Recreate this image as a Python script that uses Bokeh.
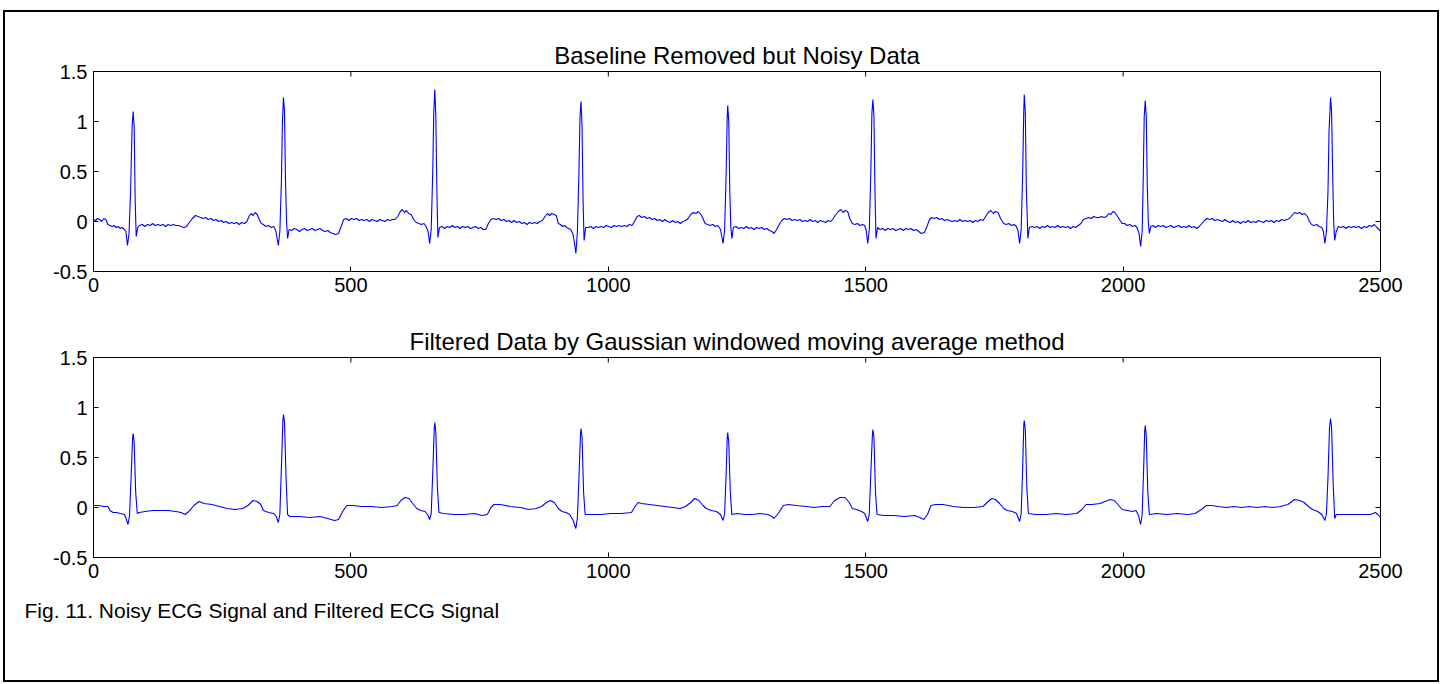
from bokeh.plotting import figure
from bokeh.layouts import column
from bokeh.models import Range1d, FixedTicker, Title
from bokeh.embed import file_html
from bokeh.resources import INLINE

# ---------------- data ----------------
title_top = "Baseline Removed but Noisy Data"
title_bottom = "Filtered Data by Gaussian windowed moving average method"
caption = "Fig. 11. Noisy ECG Signal and Filtered ECG Signal"

x_tick_values = [0, 500, 1000, 1500, 2000, 2500]
x_tick_labels = ["0", "500", "1000", "1500", "2000", "2500"]
y_tick_values = [-0.5, 0, 0.5, 1, 1.5]
y_tick_labels = ["-0.5", "0", "0.5", "1", "1.5"]

# noisy (baseline removed) ECG: (sample, amplitude)
noisy_points = [
    (0, 0.02), (4, 0.01), (8, 0.03), (12, 0.02), (16, 0.00), (20, 0.03), (24, 0.02), (28, -0.03),
    (32, -0.04), (36, -0.05), (40, -0.04), (44, -0.06), (48, -0.05), (52, -0.07), (56, -0.06),
    (60, -0.08), (63, -0.10), (66, -0.24), (69, -0.12), (72, 0.30), (75, 0.95), (77, 1.10),
    (79, 0.95), (81, 0.20), (83, -0.15), (86, -0.06), (89, -0.04),
    (95, -0.03), (100, -0.05), (105, -0.03), (110, -0.04), (115, -0.02), (120, -0.04), (125, -0.03),
    (130, -0.04), (135, -0.03), (140, -0.05), (145, -0.03), (150, -0.04), (155, -0.03), (160, -0.04),
    (165, -0.04), (170, -0.05), (176, -0.06), (181, -0.05), (186, -0.01), (192, 0.03), (198, 0.06),
    (203, 0.05), (208, 0.04), (213, 0.03), (218, 0.04), (223, 0.02), (228, 0.03), (233, 0.01),
    (238, 0.02), (243, 0.00), (248, 0.01), (253, -0.01), (258, 0.00), (263, -0.02), (268, -0.01),
    (273, -0.02), (278, -0.01), (283, -0.03), (288, -0.01), (293, -0.02), (298, 0.00), (302, 0.05),
    (306, 0.08), (310, 0.06), (314, 0.09), (318, 0.07), (322, 0.02), (326, -0.02), (330, -0.03),
    (335, -0.05), (340, -0.04), (345, -0.06), (350, -0.05), (354, -0.09), (359, -0.24), (362, -0.10),
    (365, 0.40), (367, 1.00), (369, 1.24), (371, 1.10), (373, 0.40), (375, 0.00), (377, -0.17),
    (380, -0.08),
    (385, -0.09), (390, -0.07), (395, -0.08), (400, -0.10), (405, -0.08), (410, -0.07), (415, -0.09),
    (420, -0.08), (425, -0.07), (430, -0.09), (435, -0.08), (440, -0.07), (445, -0.09), (450, -0.10),
    (455, -0.09), (460, -0.11), (465, -0.12), (470, -0.13), (476, -0.12), (481, -0.05), (486, 0.02),
    (491, 0.03), (496, 0.01), (501, 0.03), (506, 0.02), (511, 0.03), (516, 0.01), (521, 0.02),
    (526, 0.01), (531, 0.02), (536, 0.00), (541, 0.02), (546, 0.01), (551, 0.00), (556, 0.02),
    (561, 0.01), (566, 0.00), (571, 0.02), (576, 0.01), (581, 0.02), (586, 0.02), (591, 0.05),
    (596, 0.10), (600, 0.12), (604, 0.09), (608, 0.11), (612, 0.08), (617, 0.07), (622, 0.02),
    (627, -0.01), (632, -0.02), (637, -0.03), (642, -0.02), (646, -0.05), (650, -0.10), (653, -0.22),
    (656, -0.08), (659, 0.50), (661, 1.10), (663, 1.32), (665, 1.05), (667, 0.30), (669, -0.16),
    (672, -0.06),
    (677, -0.05), (682, -0.07), (687, -0.05), (692, -0.06), (697, -0.04), (702, -0.06), (707, -0.05),
    (712, -0.07), (717, -0.05), (722, -0.06), (727, -0.05), (732, -0.07), (737, -0.06), (742, -0.05),
    (747, -0.07), (752, -0.06), (757, -0.08), (762, -0.08), (767, -0.02), (772, 0.02), (777, 0.03),
    (782, 0.02), (787, 0.03), (792, 0.01), (797, 0.02), (802, 0.00), (807, 0.01), (812, -0.01),
    (817, 0.01), (822, -0.01), (827, 0.00), (832, -0.02), (837, -0.01), (842, -0.03), (847, -0.01),
    (852, -0.02), (857, -0.01), (862, -0.02), (867, 0.00), (872, 0.01), (877, 0.05), (882, 0.08),
    (886, 0.06), (890, 0.08), (895, 0.07), (899, 0.06), (903, -0.02), (907, -0.03), (911, -0.05),
    (915, -0.04), (919, -0.06), (923, -0.07), (927, -0.08), (931, -0.12), (934, -0.20), (937, -0.32),
    (940, -0.10), (943, 0.50), (945, 1.05), (947, 1.20), (949, 0.95), (951, 0.20), (953, -0.19),
    (956, -0.06),
    (961, -0.06), (966, -0.05), (971, -0.07), (976, -0.05), (981, -0.06), (986, -0.05), (991, -0.06),
    (996, -0.04), (1001, -0.05), (1006, -0.06), (1011, -0.04), (1016, -0.05), (1021, -0.04),
    (1026, -0.05), (1031, -0.04), (1036, -0.05), (1041, -0.03), (1046, -0.04), (1051, 0.00),
    (1056, 0.05), (1060, 0.06), (1065, 0.04), (1070, 0.05), (1075, 0.03), (1080, 0.04), (1085, 0.02),
    (1090, 0.03), (1095, 0.01), (1100, 0.02), (1105, 0.00), (1110, 0.02), (1115, 0.00), (1120, -0.01),
    (1125, 0.01), (1130, -0.01), (1135, 0.00), (1140, -0.02), (1145, 0.00), (1150, 0.01), (1155, 0.03),
    (1160, 0.07), (1165, 0.09), (1170, 0.08), (1175, 0.10), (1180, 0.07), (1184, 0.03), (1188, -0.02),
    (1193, -0.03), (1198, -0.04), (1203, -0.03), (1208, -0.05), (1213, -0.04), (1218, -0.08),
    (1223, -0.22), (1226, -0.08), (1229, 0.50), (1231, 1.05), (1232, 1.16), (1234, 1.00), (1236, 0.30),
    (1238, -0.05), (1240, -0.17), (1243, -0.06),
    (1248, -0.05), (1253, -0.07), (1258, -0.06), (1263, -0.07), (1268, -0.05), (1273, -0.07),
    (1278, -0.06), (1283, -0.08), (1288, -0.06), (1293, -0.07), (1298, -0.06), (1303, -0.08),
    (1308, -0.07), (1313, -0.09), (1318, -0.10), (1322, -0.12), (1327, -0.08), (1332, -0.03),
    (1337, 0.01), (1342, 0.03), (1347, 0.02), (1352, 0.03), (1357, 0.01), (1362, 0.02), (1367, 0.01),
    (1372, 0.02), (1377, 0.00), (1382, 0.01), (1387, 0.00), (1392, 0.02), (1397, 0.00), (1402, 0.01),
    (1407, -0.01), (1412, 0.01), (1417, 0.00), (1422, -0.01), (1427, 0.01), (1432, 0.00), (1437, 0.03),
    (1442, 0.07), (1447, 0.10), (1452, 0.12), (1456, 0.09), (1460, 0.11), (1465, 0.10), (1469, 0.03),
    (1474, -0.02), (1479, -0.03), (1484, -0.02), (1489, -0.04), (1494, -0.03), (1498, -0.04),
    (1501, -0.09), (1504, -0.22), (1507, -0.08), (1510, 0.50), (1512, 1.08), (1514, 1.22), (1516, 1.05),
    (1518, 0.30), (1520, -0.17), (1523, -0.06),
    (1528, -0.08), (1533, -0.07), (1538, -0.09), (1543, -0.07), (1548, -0.08), (1553, -0.07),
    (1558, -0.09), (1563, -0.08), (1568, -0.07), (1573, -0.09), (1578, -0.07), (1583, -0.08),
    (1588, -0.07), (1593, -0.09), (1598, -0.08), (1603, -0.10), (1608, -0.12), (1614, -0.11),
    (1619, -0.05), (1624, 0.02), (1628, 0.04), (1633, 0.03), (1638, 0.04), (1643, 0.02), (1648, 0.03),
    (1653, 0.01), (1658, 0.02), (1663, 0.01), (1668, 0.00), (1673, 0.01), (1678, 0.00), (1683, 0.02),
    (1688, 0.00), (1693, 0.01), (1698, 0.00), (1703, 0.01), (1708, -0.01), (1713, 0.01), (1718, 0.00),
    (1723, 0.02), (1728, 0.01), (1733, 0.05), (1738, 0.09), (1743, 0.11), (1748, 0.08), (1752, 0.10),
    (1757, 0.09), (1762, 0.03), (1768, -0.02), (1773, -0.03), (1778, -0.02), (1783, -0.04),
    (1788, -0.03), (1793, -0.05), (1796, -0.10), (1799, -0.22), (1802, -0.08), (1805, 0.50),
    (1807, 1.10), (1808, 1.27), (1810, 1.10), (1812, 0.35), (1815, -0.17), (1818, -0.06),
    (1823, -0.05), (1828, -0.06), (1833, -0.05), (1838, -0.07), (1843, -0.05), (1848, -0.06),
    (1853, -0.04), (1858, -0.06), (1863, -0.05), (1868, -0.06), (1873, -0.04), (1878, -0.06),
    (1883, -0.05), (1888, -0.06), (1893, -0.05), (1898, -0.07), (1903, -0.05), (1908, -0.06),
    (1913, -0.04), (1918, -0.02), (1923, 0.02), (1928, 0.03), (1933, 0.04), (1938, 0.03), (1943, 0.05),
    (1948, 0.04), (1953, 0.04), (1958, 0.05), (1963, 0.04), (1968, 0.05), (1972, 0.08), (1976, 0.07),
    (1980, 0.10), (1984, 0.09), (1988, 0.06), (1993, 0.02), (1998, -0.02), (2003, -0.02), (2008, -0.04),
    (2013, -0.03), (2018, -0.05), (2023, -0.04), (2027, -0.06), (2031, -0.12), (2034, -0.25),
    (2037, -0.10), (2039, 0.40), (2041, 1.05), (2043, 1.21), (2045, 1.05), (2047, 0.35), (2049, 0.00),
    (2051, -0.12), (2054, -0.05),
    (2058, -0.04), (2063, -0.06), (2068, -0.04), (2073, -0.05), (2078, -0.04), (2083, -0.06),
    (2088, -0.05), (2093, -0.04), (2098, -0.06), (2103, -0.05), (2108, -0.04), (2113, -0.06),
    (2118, -0.05), (2123, -0.06), (2128, -0.04), (2133, -0.06), (2138, -0.05), (2143, -0.07),
    (2148, -0.05), (2153, -0.02), (2158, 0.01), (2163, 0.03), (2168, 0.02), (2173, 0.03), (2178, 0.01),
    (2183, 0.02), (2188, 0.01), (2193, 0.00), (2198, 0.02), (2203, 0.00), (2208, -0.01), (2213, 0.01),
    (2218, -0.01), (2223, 0.00), (2228, -0.02), (2233, 0.00), (2238, -0.01), (2243, 0.01),
    (2248, -0.01), (2253, 0.00), (2258, -0.01), (2263, 0.01), (2268, 0.00), (2273, -0.01), (2278, 0.01),
    (2283, 0.00), (2288, 0.01), (2293, -0.01), (2298, 0.01), (2303, 0.00), (2308, 0.02), (2313, 0.01),
    (2318, 0.02), (2323, 0.03), (2328, 0.06), (2333, 0.09), (2338, 0.08), (2343, 0.09), (2348, 0.07),
    (2353, 0.08), (2358, 0.05), (2362, 0.00), (2366, -0.03), (2371, -0.04), (2376, -0.03),
    (2381, -0.05), (2386, -0.06), (2389, -0.10), (2392, -0.22), (2395, -0.10), (2398, 0.30),
    (2400, 0.90), (2403, 1.24), (2405, 1.10), (2407, 0.50), (2409, 0.00), (2411, -0.19), (2414, -0.10),
    (2418, -0.05), (2423, -0.06), (2428, -0.05), (2433, -0.07), (2438, -0.05), (2443, -0.06),
    (2448, -0.05), (2453, -0.06), (2458, -0.05), (2463, -0.07), (2468, -0.05), (2473, -0.06),
    (2478, -0.04), (2483, -0.05), (2488, -0.03), (2493, -0.06), (2497, -0.08), (2500, -0.10),
]

# filtered ECG (Gaussian windowed moving average): (sample, amplitude)
filtered_points = [
    (0, 0.02), (10, 0.02), (20, 0.01), (28, 0.01), (32, -0.03), (38, -0.05), (45, -0.05), (52, -0.06),
    (60, -0.07), (64, -0.12), (67, -0.17), (70, -0.08), (73, 0.30), (76, 0.70), (77, 0.74), (79, 0.65),
    (82, 0.15), (85, -0.06), (89, -0.05), (100, -0.04), (115, -0.03), (130, -0.03), (145, -0.03),
    (160, -0.04), (170, -0.05), (178, -0.07), (185, -0.04), (195, 0.02), (205, 0.06), (215, 0.04),
    (230, 0.03), (245, 0.01), (260, -0.01), (275, -0.02), (290, -0.01), (300, 0.02), (310, 0.07),
    (318, 0.06), (325, 0.03), (330, -0.03), (340, -0.05), (350, -0.06), (355, -0.09), (359, -0.15),
    (362, -0.07), (365, 0.40), (368, 0.88), (369, 0.93), (371, 0.85), (374, 0.30), (377, -0.07),
    (382, -0.09), (400, -0.09), (420, -0.10), (440, -0.09), (455, -0.11), (468, -0.13), (476, -0.12),
    (484, -0.04), (492, 0.02), (505, 0.02), (520, 0.01), (540, 0.01), (560, 0.00), (580, 0.01),
    (590, 0.02), (597, 0.07), (605, 0.10), (613, 0.09), (620, 0.04), (628, -0.01), (636, -0.03),
    (644, -0.04), (650, -0.08), (653, -0.12), (656, -0.06), (659, 0.35), (662, 0.80), (663, 0.85),
    (665, 0.75), (668, 0.20), (671, -0.05), (680, -0.06), (700, -0.07), (720, -0.07), (740, -0.06),
    (755, -0.08), (765, -0.07), (772, 0.00), (778, 0.03), (790, 0.03), (810, 0.01), (830, 0.00),
    (845, -0.02), (860, -0.01), (870, 0.01), (880, 0.05), (888, 0.07), (895, 0.05), (903, -0.01),
    (910, -0.04), (918, -0.05), (925, -0.07), (931, -0.12), (937, -0.21), (940, -0.10), (943, 0.30),
    (946, 0.74), (947, 0.79), (949, 0.70), (952, 0.15), (955, -0.07), (965, -0.07), (985, -0.07),
    (1005, -0.06), (1025, -0.06), (1045, -0.05), (1052, 0.01), (1058, 0.05), (1065, 0.04),
    (1080, 0.03), (1095, 0.02), (1110, 0.01), (1125, 0.00), (1140, -0.01), (1150, 0.01), (1160, 0.05),
    (1168, 0.09), (1176, 0.07), (1184, 0.02), (1190, -0.01), (1200, -0.03), (1210, -0.04),
    (1218, -0.07), (1223, -0.13), (1226, -0.06), (1229, 0.35), (1231, 0.70), (1232, 0.75), (1234, 0.65),
    (1237, 0.15), (1240, -0.07), (1250, -0.06), (1265, -0.07), (1280, -0.07), (1295, -0.06),
    (1310, -0.07), (1318, -0.09), (1322, -0.11), (1330, -0.06), (1340, 0.02), (1350, 0.03),
    (1365, 0.02), (1385, 0.01), (1400, 0.00), (1415, 0.01), (1430, 0.01), (1440, 0.07), (1450, 0.10),
    (1460, 0.10), (1468, 0.05), (1474, -0.01), (1482, -0.02), (1492, -0.04), (1498, -0.06),
    (1504, -0.14), (1507, -0.06), (1510, 0.35), (1513, 0.73), (1514, 0.78), (1516, 0.70), (1519, 0.15),
    (1522, -0.07), (1535, -0.08), (1555, -0.08), (1575, -0.09), (1595, -0.08), (1605, -0.10),
    (1613, -0.12), (1620, -0.07), (1627, 0.02), (1635, 0.03), (1650, 0.03), (1670, 0.01), (1690, 0.00),
    (1710, 0.00), (1728, 0.01), (1738, 0.06), (1745, 0.09), (1752, 0.08), (1760, 0.04), (1768, -0.01),
    (1775, -0.03), (1785, -0.04), (1793, -0.06), (1799, -0.14), (1802, -0.06), (1805, 0.40),
    (1807, 0.82), (1808, 0.87), (1810, 0.78), (1813, 0.20), (1816, -0.06), (1830, -0.07),
    (1850, -0.07), (1870, -0.06), (1890, -0.07), (1910, -0.06), (1920, -0.02), (1928, 0.03),
    (1940, 0.03), (1955, 0.04), (1965, 0.06), (1975, 0.08), (1983, 0.07), (1990, 0.03), (1998, -0.02),
    (2008, -0.03), (2018, -0.04), (2025, -0.03), (2030, -0.08), (2034, -0.17), (2037, -0.07),
    (2040, 0.40), (2042, 0.77), (2043, 0.82), (2045, 0.72), (2048, 0.15), (2051, -0.07), (2065, -0.06),
    (2085, -0.07), (2105, -0.06), (2125, -0.07), (2140, -0.06), (2152, -0.02), (2162, 0.02),
    (2172, 0.02), (2185, 0.01), (2200, 0.00), (2215, 0.01), (2230, 0.00), (2245, 0.01), (2260, 0.00),
    (2275, 0.01), (2290, 0.00), (2305, 0.01), (2320, 0.03), (2333, 0.08), (2343, 0.07), (2352, 0.05),
    (2360, 0.01), (2368, -0.02), (2378, -0.04), (2386, -0.07), (2392, -0.13), (2395, -0.06),
    (2398, 0.30), (2401, 0.80), (2403, 0.89), (2405, 0.80), (2408, 0.25), (2411, -0.11), (2414, -0.07),
    (2425, -0.07), (2445, -0.07), (2465, -0.07), (2480, -0.07), (2490, -0.05), (2495, -0.07),
    (2500, -0.10),
]

# ---------------- styling ----------------
FONT = "Liberation Sans"
TICK_FS = "20px"
TITLE_FS = "24px"
CAPTION_FS = "21px"
LINE_COLOR = "#0000FF"
INNER_W = 1432
FRAME_W = 1287
FRAME_H = 200
BORDER_L = 88
X_START, X_END = 0, 2500
Y_START, Y_END = -0.5, 1.5
TICK_PX = 5


def make_panel(points, title, min_top, min_bottom):
    xs = [pt[0] for pt in points]
    ys = [pt[1] for pt in points]
    p = figure(frame_width=FRAME_W, frame_height=FRAME_H,
               x_range=Range1d(X_START, X_END), y_range=Range1d(Y_START, Y_END),
               output_backend="svg", toolbar_location=None,
               min_border_left=BORDER_L, min_border_right=INNER_W - BORDER_L - FRAME_W,
               min_border_top=min_top, min_border_bottom=min_bottom,
               background_fill_color="white", border_fill_color="white",
               outline_line_color="black", outline_line_width=1)
    p.title.text = title
    p.title.align = "center"
    p.title.text_font = FONT
    p.title.text_font_size = TITLE_FS
    p.title.text_font_style = "normal"
    p.title.text_color = "black"
    p.title.standoff = 5
    p.grid.visible = False

    xax = p.xaxis[0]
    yax = p.yaxis[0]
    xax.ticker = FixedTicker(ticks=x_tick_values)
    xax.major_label_overrides = dict(zip(x_tick_values, x_tick_labels))
    yax.ticker = FixedTicker(ticks=y_tick_values)
    yax.major_label_overrides = dict(zip(y_tick_values, y_tick_labels))
    for ax in (xax, yax):
        ax.major_tick_in = TICK_PX
        ax.major_tick_out = 0
        ax.minor_tick_line_color = None
        ax.axis_line_color = "black"
        ax.major_tick_line_color = "black"
        ax.major_label_text_font = FONT
        ax.major_label_text_font_size = TICK_FS
        ax.major_label_text_color = "black"
        ax.major_label_standoff = 6

    # inward ticks on the top and right edges (MATLAB box style)
    dy = TICK_PX * (Y_END - Y_START) / FRAME_H
    dx = TICK_PX * (X_END - X_START) / FRAME_W
    p.segment(x0=x_tick_values, y0=[Y_END] * len(x_tick_values),
              x1=x_tick_values, y1=[Y_END - dy] * len(x_tick_values),
              line_color="black", line_width=1)
    p.segment(x0=[X_END] * len(y_tick_values), y0=y_tick_values,
              x1=[X_END - dx] * len(y_tick_values), y1=y_tick_values,
              line_color="black", line_width=1)

    p.line(xs, ys, line_color=LINE_COLOR, line_width=1.1)
    return p


p1 = make_panel(noisy_points, title_top, 59, 30)
p2 = make_panel(filtered_points, title_bottom, 56, 123)

# figure caption, left-aligned near the outer frame's left edge
cap = Title(text=caption, align="left", offset=19 - BORDER_L, standoff=32,
            text_font=FONT, text_font_size=CAPTION_FS, text_font_style="normal",
            text_color="black")
p2.add_layout(cap, "below")

layout = column(p1, p2, spacing=0, margin=(10, 0, 0, 3),
                styles={"border": "2px solid black"})

open("out.html", "w").write(file_html(layout, INLINE))
